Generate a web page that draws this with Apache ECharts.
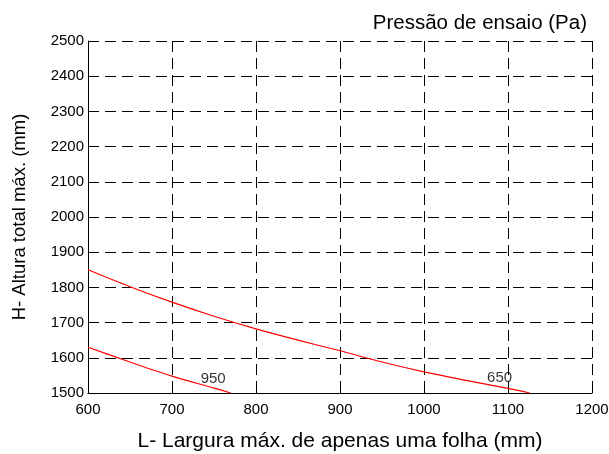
<!DOCTYPE html>
<html>
<head>
<meta charset="utf-8">
<script src="https://cdn.jsdelivr.net/npm/echarts@6/dist/echarts.min.js"></script>
<style>html,body{margin:0;padding:0;background:#fff}#c{width:609px;height:454px}</style>
</head>
<body>
<div id="c"></div>
<script>
var curve650X = [600, 650, 700, 750, 800, 850, 900, 950, 1000, 1050, 1100, 1126];
var curve650Y = [1850, 1802, 1758, 1718, 1682, 1650, 1620, 1588, 1560, 1536, 1513, 1500];
var curve950X = [600, 650, 700, 750, 770];
var curve950Y = [1630, 1588, 1548, 1514, 1500];
var labels = ['950', '650'];
var labelX = [749, 1090];
var labelY = [1540, 1543];
var xTicks = [600, 700, 800, 900, 1000, 1100, 1200];
var yTicks = [1500, 1600, 1700, 1800, 1900, 2000, 2100, 2200, 2300, 2400, 2500];

function pairs(xs, ys) { return xs.map(function (x, i) { return [x, ys[i]]; }); }

var font = 'Liberation Sans, Arial, sans-serif';
var dash = { color: '#000', width: 1, type: [11, 6] };
var chart = echarts.init(document.getElementById('c'));
chart.setOption({
  animation: false,
  title: {
    text: 'Pressão de ensaio (Pa)', right: 17, top: 8,
    textStyle: { fontFamily: font, fontSize: 20.5, fontWeight: 'normal', color: '#000' }
  },
  grid: { left: 88, right: 17, top: 41, bottom: 61, containLabel: false, outerBoundsMode: 'none' },
  xAxis: [{
    type: 'value', min: xTicks[0], max: xTicks[xTicks.length - 1], interval: 100,
    name: 'L- Largura máx. de apenas uma folha (mm)', nameLocation: 'middle', nameGap: 38,
    nameTextStyle: { fontFamily: font, fontSize: 21, color: '#000' },
    axisLine: { show: true, lineStyle: { color: '#000', width: 1 } },
    axisTick: { show: true, inside: true, length: 5, lineStyle: { color: '#000' } },
    axisLabel: { fontFamily: font, fontSize: 15, color: '#000', margin: 9, formatter: function (v) { return String(v); } },
    splitLine: { show: true, lineStyle: dash }
  }, {
    type: 'value', min: xTicks[0], max: xTicks[xTicks.length - 1], interval: 100, position: 'top',
    axisLine: { show: false },
    axisTick: { show: true, inside: true, length: 5, lineStyle: { color: '#000' } },
    axisLabel: { show: false }, splitLine: { show: false }
  }],
  yAxis: [{
    type: 'value', min: yTicks[0], max: yTicks[yTicks.length - 1], interval: 100,
    name: 'H- Altura total máx. (mm)', nameLocation: 'middle', nameGap: 59, nameRotate: 90,
    nameTextStyle: { fontFamily: font, fontSize: 18.5, color: '#000' },
    axisLine: { show: true, lineStyle: { color: '#000', width: 1 } },
    axisTick: { show: true, inside: true, length: 5, lineStyle: { color: '#000' } },
    axisLabel: { fontFamily: font, fontSize: 15, color: '#000', margin: 4, formatter: function (v) { return String(v); } },
    splitLine: { show: true, lineStyle: dash }
  }, {
    type: 'value', min: yTicks[0], max: yTicks[yTicks.length - 1], interval: 100, position: 'right',
    axisLine: { show: false },
    axisTick: { show: true, inside: true, length: 5, lineStyle: { color: '#000' } },
    axisLabel: { show: false }, splitLine: { show: false }
  }],
  series: [{
    type: 'line', data: pairs(curve650X, curve650Y), smooth: 0.3, showSymbol: false,
    lineStyle: { color: '#ff0000', width: 1.2 }
  }, {
    type: 'line', data: pairs(curve950X, curve950Y), smooth: 0.3, showSymbol: false,
    lineStyle: { color: '#ff0000', width: 1.2 }
  }, {
    type: 'scatter', data: labels.map(function (t, i) { return { value: [labelX[i], labelY[i]], name: t }; }),
    symbolSize: 0, silent: true,
    label: { show: true, position: 'inside', formatter: '{b}', fontFamily: font, fontSize: 15, color: '#000' }
  }]
});
</script>
</body>
</html>
